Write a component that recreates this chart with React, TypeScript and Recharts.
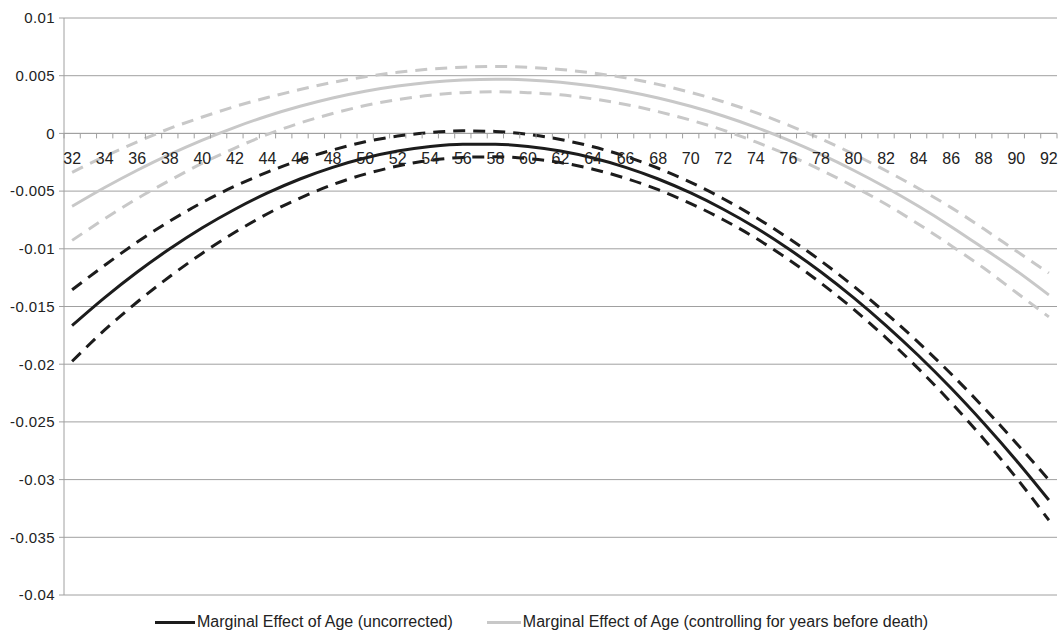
import { LineChart, Line, XAxis, YAxis, CartesianGrid, ReferenceLine, ReferenceDot, Legend } from 'recharts'

// age (x), read every two years
const ages = [32, 34, 36, 38, 40, 42, 44, 46, 48, 50, 52, 54, 56, 58, 60, 62, 64, 66, 68, 70, 72, 74, 76, 78, 80, 82, 84, 86, 88, 90, 92]

// marginal effect of age, uncorrected (black) with its band
const uncorrected = [
  -0.01665, -0.01423, -0.01201, -0.01000, -0.00818, -0.00657, -0.00516, -0.00395, -0.00294, -0.00213, -0.00153,
  -0.00113, -0.00093, -0.00093, -0.00113, -0.00153, -0.00213, -0.00294, -0.00395, -0.00516, -0.00657, -0.00818,
  -0.01000, -0.01201, -0.01423, -0.01665, -0.01927, -0.02209, -0.02512, -0.02834, -0.03177,
]
const uncorrectedUpper = [
  -0.01355, -0.01143, -0.00941, -0.00760, -0.00598, -0.00457, -0.00336, -0.00230, -0.00144, -0.00073, -0.00023,
  0.00007, 0.00022, 0.00017, -0.00008, -0.00053, -0.00116, -0.00199, -0.00302, -0.00424, -0.00566, -0.00728,
  -0.00908, -0.01105, -0.01323, -0.01559, -0.01813, -0.02085, -0.02376, -0.02684, -0.03002,
]
const uncorrectedLower = [
  -0.01975, -0.01703, -0.01461, -0.01240, -0.01038, -0.00857, -0.00696, -0.00560, -0.00444, -0.00353, -0.00283,
  -0.00233, -0.00208, -0.00203, -0.00218, -0.00253, -0.00310, -0.00389, -0.00488, -0.00608, -0.00748, -0.00908,
  -0.01092, -0.01297, -0.01523, -0.01771, -0.02041, -0.02333, -0.02648, -0.02984, -0.03352,
]

// controlling for years before death (grey) with its band
const controlled = [
  -0.00632, -0.00469, -0.00319, -0.00182, -0.00058, 0.00053, 0.00151, 0.00235, 0.00307, 0.00366, 0.00411,
  0.00444, 0.00463, 0.00470, 0.00463, 0.00444, 0.00411, 0.00366, 0.00307, 0.00235, 0.00151, 0.00053,
  -0.00058, -0.00182, -0.00319, -0.00469, -0.00632, -0.00808, -0.00997, -0.01190, -0.01400,
]
const controlledUpper = [
  -0.00337, -0.00199, -0.00074, 0.00043, 0.00142, 0.00233, 0.00311, 0.00380, 0.00442, 0.00491, 0.00529,
  0.00557, 0.00573, 0.00580, 0.00573, 0.00554, 0.00523, 0.00481, 0.00425, 0.00355, 0.00274, 0.00180,
  0.00072, -0.00047, -0.00179, -0.00324, -0.00477, -0.00643, -0.00827, -0.01019, -0.01210,
]
const controlledLower = [
  -0.00927, -0.00739, -0.00564, -0.00407, -0.00258, -0.00127, -0.00009, 0.00090, 0.00172, 0.00241, 0.00293,
  0.00331, 0.00353, 0.00360, 0.00353, 0.00334, 0.00299, 0.00251, 0.00189, 0.00115, 0.00028, -0.00074,
  -0.00188, -0.00317, -0.00459, -0.00614, -0.00787, -0.00973, -0.01167, -0.01379, -0.01590,
]

const yTicks = [0.01, 0.005, 0, -0.005, -0.01, -0.015, -0.02, -0.025, -0.03, -0.035, -0.04]
const xLabels = ages
// tick marks sit between the yearly categories 32..92
const xTickMarks = Array.from({ length: 62 }, (_, i) => 31.5 + i)

const BLACK = '#1c1c1c'
const GREY = '#c8c8c8'
const AXIS = '#a0a0a0'
const FONT = '"Liberation Sans", Arial, sans-serif'

const data = ages.map((age, i) => ({
  age,
  uncorrected: uncorrected[i],
  uncorrectedUpper: uncorrectedUpper[i],
  uncorrectedLower: uncorrectedLower[i],
  controlled: controlled[i],
  controlledUpper: controlledUpper[i],
  controlledLower: controlledLower[i],
}))

function fmtY(v: number) {
  return String(+v.toFixed(3))
}

function LegendContent() {
  return (
    <div style={{ display: 'flex', alignItems: 'center', height: 28, paddingLeft: 155, fontFamily: FONT, fontSize: 16, color: '#222' }}>
      <span style={{ display: 'inline-block', width: 40, height: 3, background: BLACK }} />
      <span style={{ marginLeft: 2 }}>Marginal Effect of Age (uncorrected)</span>
      <span style={{ display: 'inline-block', width: 34, height: 3, background: GREY, marginLeft: 34 }} />
      <span style={{ marginLeft: 2 }}>Marginal Effect of Age (controlling for years before death)</span>
    </div>
  )
}

export default function App() {
  return (
    <div style={{ position: 'absolute', left: 0, top: 0, background: '#fff' }}>
      <LineChart width={1061} height={639} data={data} margin={{ top: 18, right: 4, left: 0, bottom: 16 }}>
        <CartesianGrid vertical={false} stroke={AXIS} />
        <XAxis dataKey="age" type="number" domain={[31.5, 92.5]} hide />
        <YAxis
          domain={[-0.04, 0.01]}
          ticks={yTicks}
          tickFormatter={fmtY}
          width={64}
          stroke={AXIS}
          tickSize={5}
          tickMargin={4}
          tick={{ fill: '#222', fontSize: 15, fontFamily: FONT, letterSpacing: 0.4 }}
        />
        <ReferenceLine y={0} stroke={AXIS} />
        {xTickMarks.map(t => (
          <ReferenceDot
            key={`tm-${t}`}
            x={t}
            y={0}
            r={0}
            shape={(p: any) => <line x1={p.cx} x2={p.cx} y1={p.cy} y2={p.cy + 5} stroke={AXIS} />}
          />
        ))}
        {xLabels.map(a => (
          <ReferenceDot
            key={`lb-${a}`}
            x={a}
            y={0}
            r={0}
            shape={(p: any) => (
              <text x={p.cx} y={p.cy + 31} textAnchor="middle" fill="#222" fontSize={16} fontFamily={FONT}>
                {a}
              </text>
            )}
          />
        ))}
        <Line dataKey="controlledUpper" type="monotone" stroke={GREY} strokeWidth={3} strokeDasharray="12 8" dot={false} legendType="none" isAnimationActive={false} />
        <Line dataKey="controlledLower" type="monotone" stroke={GREY} strokeWidth={3} strokeDasharray="12 8" dot={false} legendType="none" isAnimationActive={false} />
        <Line dataKey="controlled" name="Marginal Effect of Age (controlling for years before death)" type="monotone" stroke={GREY} strokeWidth={3} dot={false} isAnimationActive={false} />
        <Line dataKey="uncorrectedUpper" type="monotone" stroke={BLACK} strokeWidth={3} strokeDasharray="12 8" dot={false} legendType="none" isAnimationActive={false} />
        <Line dataKey="uncorrectedLower" type="monotone" stroke={BLACK} strokeWidth={3} strokeDasharray="12 8" dot={false} legendType="none" isAnimationActive={false} />
        <Line dataKey="uncorrected" name="Marginal Effect of Age (uncorrected)" type="monotone" stroke={BLACK} strokeWidth={3} dot={false} isAnimationActive={false} />
        <Legend
          verticalAlign="bottom"
          content={LegendContent}
          wrapperStyle={{ left: 0, top: 608, width: 1061, height: 28 }}
        />
      </LineChart>
    </div>
  )
}
